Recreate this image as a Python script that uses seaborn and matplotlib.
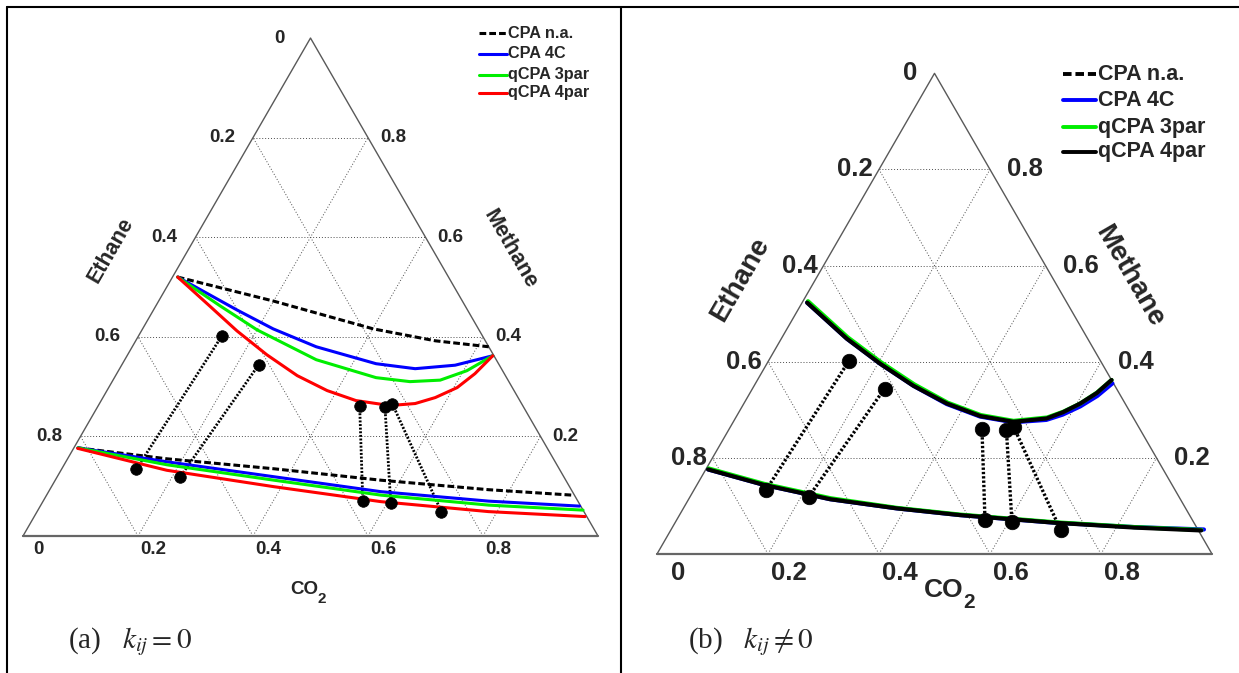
import numpy as np
import matplotlib.pyplot as plt
import seaborn as sns
from matplotlib.lines import Line2D

sns.set_theme(style='white')
plt.rcParams['font.family'] = ['Liberation Sans', 'DejaVu Sans']
plt.rcParams['mathtext.fontset'] = 'stix'

# compositions as (CO2, methane) fractions, ethane is the rest
exp_vap_co2 = [0.145, 0.238, 0.455, 0.500, 0.510]
exp_vap_ch4 = [0.402, 0.344, 0.261, 0.259, 0.265]
exp_liq_co2 = [0.130, 0.214, 0.556, 0.606, 0.703]
exp_liq_ch4 = [0.134, 0.119, 0.070, 0.067, 0.049]

models = ['CPA n.a.', 'CPA 4C', 'qCPA 3par', 'qCPA 4par']

# (a) kij = 0
a_na_up_co2 = [0.009, 0.199, 0.401, 0.521, 0.620]
a_na_up_ch4 = [0.520, 0.472, 0.416, 0.392, 0.380]
a_na_lo_co2 = [0.007, 0.173, 0.369, 0.567, 0.763, 0.915]
a_na_lo_ch4 = [0.177, 0.155, 0.135, 0.112, 0.093, 0.082]

a_4c_up_co2 = [0.009, 0.145, 0.227, 0.320, 0.441, 0.514, 0.580, 0.636]
a_4c_up_ch4 = [0.520, 0.454, 0.416, 0.380, 0.346, 0.336, 0.343, 0.362]
a_4c_lo_co2 = [0.007, 0.176, 0.377, 0.578, 0.775, 0.938]
a_4c_lo_ch4 = [0.177, 0.149, 0.119, 0.089, 0.070, 0.060]

a_3p_up_co2 = [0.009, 0.112, 0.200, 0.333, 0.455, 0.518, 0.569, 0.606, 0.636]
a_3p_up_ch4 = [0.520, 0.462, 0.414, 0.354, 0.318, 0.310, 0.313, 0.332, 0.362]
a_3p_lo_co2 = [0.007, 0.179, 0.381, 0.582, 0.779, 0.948]
a_3p_lo_ch4 = [0.177, 0.143, 0.112, 0.082, 0.062, 0.052]

a_4p_up_co2 = [0.009, 0.095, 0.166, 0.242, 0.316, 0.383, 0.443, 0.507, 0.549, 0.578,
               0.606, 0.623, 0.636]
a_4p_up_ch4 = [0.520, 0.461, 0.412, 0.364, 0.322, 0.292, 0.272, 0.262, 0.266, 0.278,
               0.298, 0.326, 0.362]
a_4p_lo_co2 = [0.007, 0.184, 0.387, 0.588, 0.785, 0.958]
a_4p_lo_ch4 = [0.176, 0.132, 0.099, 0.069, 0.049, 0.039]

# (b) kij fitted
b_4c_up_co2 = [0.009, 0.118, 0.204, 0.287, 0.366, 0.439, 0.505, 0.562, 0.586, 0.609, 0.629, 0.643]
b_4c_up_ch4 = [0.523, 0.448, 0.396, 0.350, 0.312, 0.286, 0.274, 0.279, 0.290, 0.307, 0.329, 0.355]
b_4c_lo_co2 = [0.004, 0.120, 0.255, 0.384, 0.505, 0.685, 0.832, 0.960]
b_4c_lo_ch4 = [0.176, 0.144, 0.114, 0.095, 0.081, 0.065, 0.056, 0.051]

b_3p_up_co2 = [0.009, 0.118, 0.204, 0.287, 0.366, 0.439, 0.504, 0.561, 0.584, 0.606, 0.625, 0.638]
b_3p_up_ch4 = [0.526, 0.451, 0.399, 0.353, 0.315, 0.289, 0.277, 0.284, 0.296, 0.313, 0.336, 0.362]
b_3p_lo_co2 = [0.004, 0.120, 0.255, 0.384, 0.505, 0.685, 0.832, 0.956]
b_3p_lo_ch4 = [0.178, 0.146, 0.116, 0.096, 0.082, 0.066, 0.056, 0.050]

b_4p_up_co2 = [0.009, 0.118, 0.204, 0.287, 0.366, 0.439, 0.505, 0.561, 0.584, 0.606, 0.625, 0.638]
b_4p_up_ch4 = [0.523, 0.448, 0.396, 0.350, 0.313, 0.287, 0.275, 0.282, 0.295, 0.313, 0.335, 0.362]
b_4p_lo_co2 = [0.004, 0.120, 0.255, 0.384, 0.505, 0.685, 0.832, 0.956]
b_4p_lo_ch4 = [0.176, 0.144, 0.114, 0.095, 0.081, 0.065, 0.055, 0.049]

left_ticks = ['0', '0.2', '0.4', '0.6', '0.8']      # ethane
right_ticks = ['0.8', '0.6', '0.4', '0.2']          # methane
bottom_ticks = ['0', '0.2', '0.4', '0.6', '0.8']    # CO2

S3 = np.sqrt(3) / 2
FW, FH = 1239, 673


def tern(co2, ch4):
    co2 = np.asarray(co2, float)
    ch4 = np.asarray(ch4, float)
    return co2 + ch4 / 2, ch4 * S3


def fpos(x, y):
    return x / FW, 1 - y / FH


def frame(ax, fs, off_l, off_r, off_b):
    # triangle and dotted grid
    for t in [0.2, 0.4, 0.6, 0.8]:
        for c, m in [([0, 1 - t], [t, t]), ([t, t], [0, 1 - t]), ([1 - t, 0], [0, 1 - t])]:
            x, y = tern(c, m)
            ax.plot(x, y, color='0.3', lw=0.7, ls=(0, (1, 2)), zorder=1)
    x, y = tern([0, 1, 0, 0], [0, 0, 1, 0])
    ax.plot(x, y, color='0.35', lw=1.0, zorder=2)
    x, y = tern([0, 1], [0, 0])
    ax.plot(x, y, color='0.4', lw=1.6, zorder=2)
    for lab in left_ticks:
        e = float(lab)
        x, y = tern([0], [1 - e])
        ax.annotate(lab, (x[0], y[0]), xytext=(off_l, 0), textcoords='offset pixels',
                    ha='center', va='center', fontsize=fs, fontweight='bold')
    for lab in right_ticks:
        m = float(lab)
        x, y = tern([1 - m], [m])
        ax.annotate(lab, (x[0], y[0]), xytext=(off_r, 0), textcoords='offset pixels',
                    ha='center', va='center', fontsize=fs, fontweight='bold')
    for lab in bottom_ticks:
        c = float(lab)
        x, y = tern([c], [0])
        ax.annotate(lab, (x[0], y[0]), xytext=off_b, textcoords='offset pixels',
                    ha='center', va='center', fontsize=fs, fontweight='bold')


def experiments(ax, s, tie_lw):
    for i in range(len(exp_vap_co2)):
        x, y = tern([exp_vap_co2[i], exp_liq_co2[i]], [exp_vap_ch4[i], exp_liq_ch4[i]])
        sns.lineplot(x=x, y=y, sort=False, estimator=None, color='black', lw=tie_lw,
                     ls=(0, (0.7, 0.6)), ax=ax, zorder=3)
    for c, m in [(exp_vap_co2, exp_vap_ch4), (exp_liq_co2, exp_liq_ch4)]:
        x, y = tern(c, m)
        sns.scatterplot(x=x, y=y, color='black', s=s, edgecolor='black', linewidth=0.5,
                        ax=ax, zorder=6)


def curves(ax, branches, color, lw, ls, z):
    for c, m in branches:
        x, y = tern(c, m)
        sns.lineplot(x=x, y=y, sort=False, estimator=None, color=color, lw=lw, ls=ls,
                     ax=ax, zorder=z)


def legend(fig, x0, x1, xt, rows, colors, styles, lw, fs):
    for lab, yy, col, st in zip(models, rows, colors, styles):
        fig.add_artist(Line2D([x0 / FW, x1 / FW], [1 - yy / FH, 1 - yy / FH],
                              color=col, lw=lw, ls=st, transform=fig.transFigure))
        fig.text(xt / FW, 1 - yy / FH, lab, ha='left', va='center', fontsize=fs,
                 fontweight='bold')


fig = plt.figure(figsize=(FW / 100, FH / 100), dpi=100)

axa = fig.add_axes([23 / FW, 137 / FH, 575 / FW, 575 * S3 / FH])
axb = fig.add_axes([657 / FW, 119 / FH, 555 / FW, 555 * S3 / FH])
for ax in (axa, axb):
    ax.set_xlim(0, 1)
    ax.set_ylim(0, S3)
    ax.set_axis_off()

dash = (0, (2.2, 1.0))

# panel (a)
frame(axa, 13.5, -31, 25, (15, -13))
experiments(axa, 70, 2.0)
curves(axa, [(a_na_up_co2, a_na_up_ch4), (a_na_lo_co2, a_na_lo_ch4)], 'black', 2.2, dash, 4)
curves(axa, [(a_4c_up_co2, a_4c_up_ch4), (a_4c_lo_co2, a_4c_lo_ch4)], '#0000ff', 2.2, '-', 4)
curves(axa, [(a_3p_up_co2, a_3p_up_ch4), (a_3p_lo_co2, a_3p_lo_ch4)], '#00ee00', 2.2, '-', 4)
curves(axa, [(a_4p_up_co2, a_4p_up_ch4), (a_4p_lo_co2, a_4p_lo_ch4)], '#ff0000', 2.2, '-', 5)

# panel (b)
frame(axb, 18.5, -24, 35, (21, -19))
experiments(axb, 110, 2.4)
curves(axb, [(b_4c_up_co2, b_4c_up_ch4), (b_4c_lo_co2, b_4c_lo_ch4)], '#0000ff', 3.0, '-', 4)
curves(axb, [(b_3p_up_co2, b_3p_up_ch4), (b_3p_lo_co2, b_3p_lo_ch4)], '#00ee00', 3.0, '-', 4)
curves(axb, [(b_4p_up_co2, b_4p_up_ch4), (b_4p_lo_co2, b_4p_lo_ch4)], 'black', 3.0, '-', 5)

for ax in (axa, axb):
    for art in ax.lines + ax.collections:
        art.set_clip_on(False)

# legends
legend(fig, 479, 507, 508, [33, 54, 75, 93], ['black', '#0000ff', '#00ee00', '#ff0000'],
       [dash, '-', '-', '-'], 2.2, 11.7)
legend(fig, 1063, 1096, 1098, [74, 100, 127, 152], ['black', '#0000ff', '#00ee00', 'black'],
       [dash, '-', '-', '-'], 2.8, 15.5)

# component names
for x, y, txt, rot, fs in [(111, 250, 'Ethane', 60, 15.5), (510, 249, 'Methane', -60, 15.5),
                           (740, 279, 'Ethane', 60, 20), (1129, 276, 'Methane', -60, 20)]:
    fig.text(*fpos(x, y), txt, rotation=rot, ha='center', va='center', fontsize=fs,
             fontweight='bold', rotation_mode='anchor')
fig.text(*fpos(304, 590), 'CO', ha='center', va='center', fontsize=13.5, fontweight='bold')
fig.text(*fpos(322, 599), '2', ha='center', va='center', fontsize=11, fontweight='bold')
fig.text(*fpos(944, 590), 'CO', ha='center', va='center', fontsize=19, fontweight='bold')
fig.text(*fpos(969, 603), '2', ha='center', va='center', fontsize=15, fontweight='bold')

# captions
fig.text(*fpos(68, 642), r'(a)   $k_{ij}=0$', ha='left', va='center', fontsize=21,
         family=['Liberation Serif', 'DejaVu Serif'])
fig.text(*fpos(688, 642), r'(b)   $k_{ij}\neq 0$', ha='left', va='center', fontsize=21,
         family=['Liberation Serif', 'DejaVu Serif'])

# table borders
for xs, ys in [([7, 7], [7, 673]), ([7, 1239], [7, 7]), ([621, 621], [7, 673])]:
    fig.add_artist(Line2D([v / FW for v in xs], [1 - v / FH for v in ys], color='black',
                          lw=1.5, transform=fig.transFigure))

fig.savefig('out.png', dpi=100, facecolor='white')
